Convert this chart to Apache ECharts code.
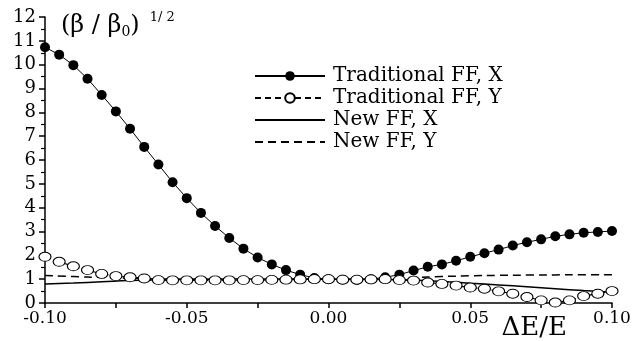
<!doctype html>
<html lang="en">
<head>
    <meta charset="UTF-8">
    <script src="https://cdn.jsdelivr.net/npm/echarts@6/dist/echarts.min.js"></script>
    <title>beta ratio vs dE/E</title>
    <style>
        html, body { margin: 0; padding: 0; background: #fff; }
    </style>
</head>
<body>
<div id="main" style="width: 634px;height:341px;"></div>
<script>
    // dE/E every 0.005 for the marker series
    var dE = [];
    for (var i = 0; i <= 40; i++) {
        dE.push(Math.round((-0.10 + i * 0.005) * 1000) / 1000);
    }
    // dE/E every 0.01 for the new FF curves
    var dE2 = [-0.10, -0.09, -0.08, -0.07, -0.06, -0.05, -0.04, -0.03, -0.02, -0.01, 0.00,
        0.01, 0.02, 0.03, 0.04, 0.05, 0.06, 0.07, 0.08, 0.09, 0.10];

    var tradX = [10.73, 10.42, 9.98, 9.41, 8.73, 8.04, 7.31, 6.55, 5.81, 5.07,
        4.40, 3.78, 3.23, 2.73, 2.28, 1.91, 1.62, 1.38, 1.19, 1.05,
        1.00, 0.98, 0.97, 1.00, 1.08, 1.19, 1.36, 1.52, 1.62, 1.77,
        1.94, 2.09, 2.24, 2.41, 2.55, 2.67, 2.80, 2.88, 2.95, 2.98, 3.02];
    var tradY = [1.94, 1.73, 1.54, 1.38, 1.22, 1.13, 1.08, 1.03, 0.96, 0.95,
        0.95, 0.95, 0.95, 0.95, 0.96, 0.96, 0.97, 0.98, 0.99, 1.00,
        1.00, 0.98, 0.98, 0.99, 1.00, 0.96, 0.94, 0.86, 0.80, 0.73,
        0.65, 0.60, 0.49, 0.39, 0.25, 0.11, 0.02, 0.11, 0.29, 0.39, 0.50];
    var newX = [0.80, 0.84, 0.89, 0.94, 0.97, 0.99, 1.00, 1.01, 1.01, 1.00, 1.00,
        1.00, 0.99, 0.96, 0.90, 0.83, 0.76, 0.68, 0.60, 0.52, 0.45];
    var newY = [1.15, 1.11, 1.07, 1.04, 1.01, 1.00, 0.99, 0.99, 0.99, 1.00, 1.00,
        1.00, 1.02, 1.07, 1.11, 1.14, 1.16, 1.17, 1.18, 1.19, 1.19];

    var names = ['Traditional FF, X', 'Traditional FF, Y', 'New FF, X', 'New FF, Y'];

    function pairs(xs, ys) {
        var out = [];
        for (var i = 0; i < xs.length; i++) out.push([xs[i], ys[i]]);
        return out;
    }

    var font = '"DejaVu Serif", "Liberation Serif", serif';
    var myChart = echarts.init(document.getElementById('main'));
    var option = {
        animation: false,
        backgroundColor: '#fff',
        textStyle: { fontFamily: font, color: '#000' },
        grid: { left: 45, right: 22, top: 17, bottom: 35 },
        title: {
            text: '{a|(β / β}{s|0}{a|)}{p|1/ 2}',
            left: 56,
            top: 6,
            textStyle: {
                fontWeight: 'normal',
                rich: {
                    a: { fontFamily: font, fontSize: 24, fontWeight: 'normal', color: '#000' },
                    s: { fontFamily: font, fontSize: 14, fontWeight: 'normal', color: '#000', padding: [14, 0, 0, 0] },
                    p: { fontFamily: font, fontSize: 13, fontWeight: 'normal', color: '#000', padding: [0, 0, 16, 10] }
                }
            }
        },
        legend: {
            data: [
                { name: names[0] },
                { name: names[1] },
                { name: names[2], itemStyle: { opacity: 0 } },
                { name: names[3], itemStyle: { opacity: 0 } }
            ],
            orient: 'vertical',
            left: 249,
            top: 61,
            itemWidth: 70,
            itemHeight: 12,
            itemGap: 2,
            textStyle: { fontFamily: font, fontSize: 20, lineHeight: 18, color: '#000', padding: [0, 0, 0, 3] }
        },
        xAxis: {
            type: 'value',
            min: -0.10,
            max: 0.10,
            interval: 0.025,
            name: 'ΔE/E',
            nameLocation: 'end',
            nameGap: 0,
            nameTextStyle: {
                fontFamily: font, fontSize: 26, color: '#000',
                align: 'right', verticalAlign: 'top', padding: [12, 45, 0, 0]
            },
            axisLine: { lineStyle: { color: '#000', width: 1.5 } },
            axisTick: { length: 5, lineStyle: { color: '#000', width: 1.5 } },
            splitLine: { show: false },
            axisLabel: {
                color: '#000', fontFamily: font, fontSize: 17, margin: 7,
                formatter: function (v) {
                    var k = Math.round(v * 1000);
                    if (k % 50 !== 0) return '';
                    return (v < 0 ? '-' : '') + Math.abs(v).toFixed(2);
                }
            }
        },
        yAxis: {
            type: 'value',
            min: 0,
            max: 12,
            interval: 1,
            axisLine: { show: true, onZero: false, lineStyle: { color: '#000', width: 1.5 } },
            axisTick: { show: true, length: 6, lineStyle: { color: '#000', width: 1.5 } },
            minorTick: { show: true, splitNumber: 2, length: 4, lineStyle: { color: '#000', width: 1.2 } },
            splitLine: { show: false },
            axisLabel: { color: '#000', fontFamily: font, fontSize: 18, margin: 9 }
        },
        series: [
            {
                name: names[0],
                type: 'line',
                data: pairs(dE, tradX),
                symbol: 'circle',
                symbolSize: 10,
                itemStyle: { color: '#000' },
                lineStyle: { color: '#000', width: 1 },
                z: 4
            },
            {
                name: names[1],
                type: 'line',
                data: pairs(dE, tradY),
                symbol: 'circle',
                symbolSize: [12, 9],
                itemStyle: { color: '#fff', borderColor: '#000', borderWidth: 1 },
                lineStyle: { color: '#000', width: 1.2, type: [6, 4] },
                z: 5
            },
            {
                name: names[2],
                type: 'line',
                data: pairs(dE2, newX),
                symbol: 'none',
                smooth: true,
                lineStyle: { color: '#000', width: 1.5 },
                itemStyle: { color: '#000' },
                z: 3
            },
            {
                name: names[3],
                type: 'line',
                data: pairs(dE2, newY),
                symbol: 'none',
                smooth: true,
                lineStyle: { color: '#000', width: 1.5, type: [8, 5] },
                itemStyle: { color: '#000' },
                z: 3
            }
        ]
    };
    myChart.setOption(option);
</script>
</body>
</html>
